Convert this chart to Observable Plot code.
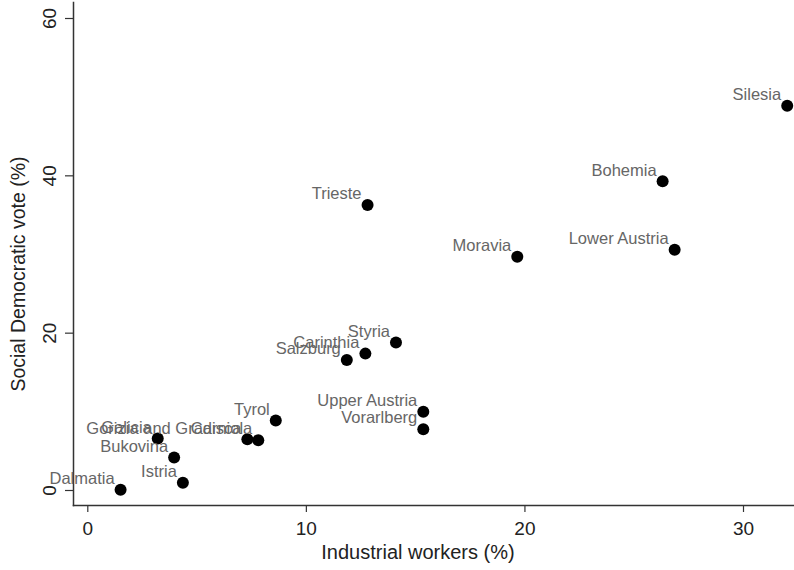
<!DOCTYPE html>
<html>
<head>
<meta charset="utf-8">
<script src="https://cdn.jsdelivr.net/npm/d3@7"></script>
<script src="https://cdn.jsdelivr.net/npm/@observablehq/plot@0.6"></script>
<style>
  html, body { margin: 0; padding: 0; background: #fff; }
  #chart { width: 794px; height: 570px; }
</style>
</head>
<body>
<div id="chart"></div>
<script>
const regions = ["Silesia","Bohemia","Lower Austria","Moravia","Trieste","Styria","Carinthia","Salzburg","Upper Austria","Vorarlberg","Tyrol","Gorizia and Gradisca","Carniola","Galicia","Bukovina","Istria","Dalmatia"];
const workers = [32.0, 26.3, 26.85, 19.65, 12.8, 14.1, 12.7, 11.85, 15.35, 15.35, 8.6, 7.3, 7.8, 3.2, 3.95, 4.35, 1.5];
const sdVote  = [48.9, 39.3, 30.6, 29.7, 36.3, 18.8, 17.4, 16.6, 10.0, 7.8, 8.9, 6.5, 6.4, 6.6, 4.2, 1.0, 0.1];
const xTicks = [0, 10, 20, 30];
const yTicks = [0, 20, 40, 60];
const xTitle = "Industrial workers (%)";
const yTitle = "Social Democratic vote (%)";

const data = regions.map((name, i) => ({name, x: workers[i], y: sdVote[i]}));

const font = "'Liberation Sans', Arial, Helvetica, sans-serif";
const chart = Plot.plot({
  width: 794,
  height: 570,
  marginLeft: 73,
  marginRight: 0,
  marginTop: 2,
  marginBottom: 65,
  style: {fontFamily: font, background: "white", color: "#222"},
  x: {domain: [0, 30], range: [87.3, 743]},
  y: {domain: [0, 60], range: [490, 18]},
  marks: [
    Plot.frame({anchor: "left", stroke: "#333", strokeWidth: 1.5}),
    Plot.frame({anchor: "bottom", stroke: "#333", strokeWidth: 1.5}),
    Plot.axisX({ticks: xTicks, tickSize: 7, tickPadding: 9, fontSize: 19, label: null, stroke: "#333", strokeWidth: 1.2, tickFormat: d => String(d)}),
    Plot.axisY({ticks: yTicks, tickSize: 8, tickPadding: 10, tickRotate: -90, fontSize: 19, label: null, stroke: "#333", strokeWidth: 1.2, tickFormat: d => String(d)}),
    Plot.dot(data, {x: "x", y: "y", r: 6, fill: "black", stroke: "none"}),
    Plot.text(data, {x: "x", y: "y", text: "name", textAnchor: "end", dx: -6, dy: -11, fill: "#666", fontSize: 16.5}),
    Plot.text([xTitle], {frameAnchor: "bottom", text: d => d, textAnchor: "middle", lineAnchor: "middle", dx: -16, dy: 47, fontSize: 20, fill: "#222"}),
    Plot.text([yTitle], {frameAnchor: "left", text: d => d, textAnchor: "middle", lineAnchor: "middle", dx: -55, dy: 20, rotate: -90, fontSize: 19.5, fill: "#222"})
  ]
});
document.getElementById("chart").appendChild(chart);
</script>
</body>
</html>
